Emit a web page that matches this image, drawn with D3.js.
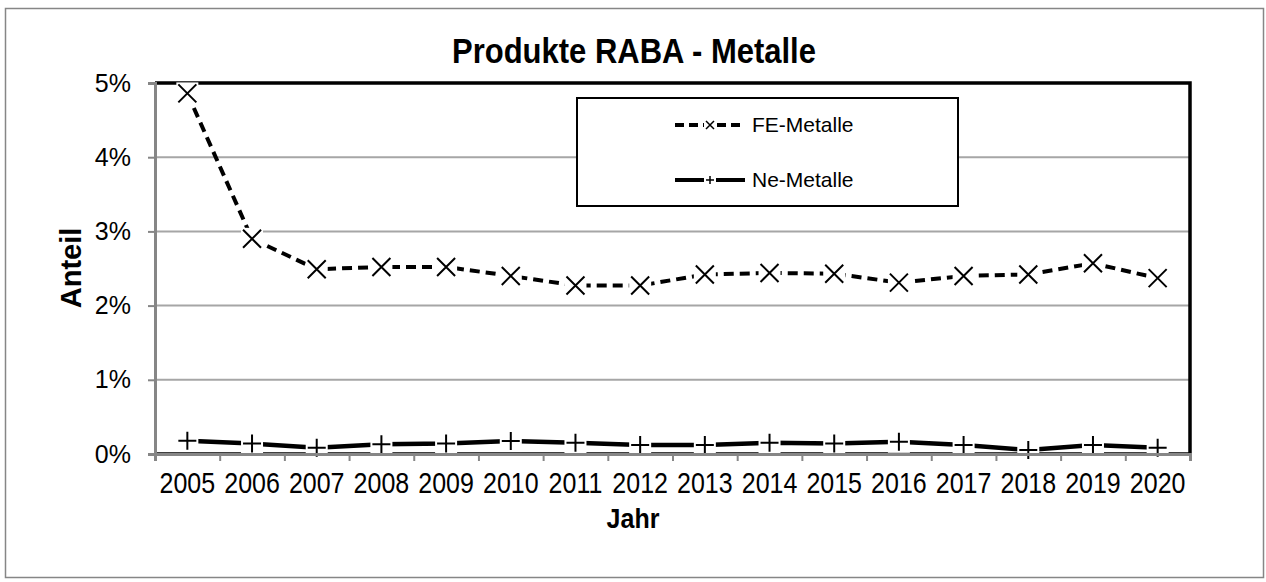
<!DOCTYPE html>
<html>
<head>
<meta charset="utf-8">
<script src="https://cdn.jsdelivr.net/npm/d3@7"></script>
<style>
  html, body { margin: 0; padding: 0; background: #fff; }
  text { font-family: "Liberation Sans", Arial, sans-serif; }
</style>
</head>
<body>
<div id="chart"></div>
<script>
const years= ['2005','2006','2007','2008','2009','2010','2011','2012','2013','2014','2015','2016','2017','2018','2019','2020'];
const feMetalle= [0.0486, 0.0290, 0.0249, 0.0252, 0.0252, 0.0240, 0.0227, 0.0227, 0.0242, 0.0244, 0.0243, 0.0231, 0.0240, 0.0242, 0.0257, 0.0237];
const neMetalle= [0.0018, 0.0014, 0.00085, 0.0013, 0.0014, 0.00175, 0.0015, 0.0012, 0.0012, 0.0015, 0.0014, 0.00165, 0.0012, 0.00054, 0.0012, 0.00085];
const yTicks= [0, 0.01, 0.02, 0.03, 0.04, 0.05];
const seriesNames= ['FE-Metalle', 'Ne-Metalle'];

const W= 1266, H= 582;
const plot= { l: 155, r: 1190, t: 83, b: 454 };
const GRID= '#a6a6a6', AXIS= '#868686';

const svg= d3.select('#chart').append('svg')
  .attr('width', W).attr('height', H);

// outer frame
svg.append('rect')
  .attr('x', 5.5).attr('y', 8.5).attr('width', 1258).attr('height', 569)
  .attr('fill', '#fff').attr('stroke', AXIS).attr('stroke-width', 1.5);

const x= d3.scaleBand().domain(years).range([plot.l, plot.r]);
const cx= d => x(d)+x.bandwidth()/2;
const y= d3.scaleLinear().domain([0, 0.05]).range([plot.b, plot.t]);
const xEdge= d3.scaleLinear().domain([0, years.length]).range([plot.l, plot.r]);

// gridlines
svg.append('g').selectAll('line')
  .data(yTicks.filter(v => v>0 && v<0.05))
  .join('line')
  .attr('x1', plot.l).attr('x2', plot.r)
  .attr('y1', d => y(d)).attr('y2', d => y(d))
  .attr('stroke', GRID).attr('stroke-width', 2);

// plot area border (black)
svg.append('path')
  .attr('d', `M${plot.l},${plot.t}H${plot.r}V${plot.b}H${plot.l}`)
  .attr('fill', 'none').attr('stroke', '#000').attr('stroke-width', 3.5);

// series lines
const line= d3.line().x((d, i) => cx(years[i])).y(d => y(d));
svg.append('path').datum(feMetalle)
  .attr('d', line).attr('fill', 'none')
  .attr('stroke', '#000').attr('stroke-width', 4)
  .attr('stroke-dasharray', '10,6');
svg.append('path').datum(neMetalle)
  .attr('d', line).attr('fill', 'none')
  .attr('stroke', '#000').attr('stroke-width', 4.5);

// marker halos, then markers
const HALO= 11, MK= 9;
const allPts= feMetalle.map((v, i) => [cx(years[i]), y(v)])
  .concat(neMetalle.map((v, i) => [cx(years[i]), y(v)]));
svg.append('g').selectAll('rect')
  .data(allPts).join('rect')
  .attr('x', d => d[0]-HALO).attr('y', d => d[1]-HALO)
  .attr('width', 2*HALO).attr('height', 2*HALO)
  .attr('fill', '#fff');

svg.append('g').selectAll('path')
  .data(feMetalle).join('path')
  .attr('d', (d, i) => {
    const px= cx(years[i]), py= y(d);
    return `M${px-MK},${py-MK}L${px+MK},${py+MK}M${px-MK},${py+MK}L${px+MK},${py-MK}`;
  })
  .attr('stroke', '#000').attr('stroke-width', 2).attr('fill', 'none');

svg.append('g').selectAll('path')
  .data(neMetalle).join('path')
  .attr('d', (d, i) => {
    const px= cx(years[i]), py= y(d);
    return `M${px-MK},${py}H${px+MK}M${px},${py-MK}V${py+MK}`;
  })
  .attr('stroke', '#000').attr('stroke-width', 2).attr('fill', 'none');

// y axis
const yAx= svg.append('g')
  .attr('transform', `translate(${plot.l},0)`)
  .call(d3.axisLeft(y).tickValues(yTicks).tickFormat(d3.format('.0%')).tickSize(7).tickPadding(17));
yAx.select('.domain').attr('stroke', AXIS).attr('stroke-width', 3);
yAx.selectAll('.tick line').attr('stroke', AXIS).attr('stroke-width', 2);
yAx.selectAll('.tick text')
  .attr('fill', '#000').attr('font-size', 25)
  .attr('font-family', '"Liberation Sans", Arial, sans-serif');

// x axis: boundary ticks + category labels
const xTk= svg.append('g')
  .attr('transform', `translate(0,${plot.b})`)
  .call(d3.axisBottom(xEdge).tickValues(d3.range(years.length+1)).tickSize(7).tickFormat(''));
xTk.select('.domain').attr('stroke', AXIS).attr('stroke-width', 3);
xTk.selectAll('.tick line').attr('stroke', AXIS).attr('stroke-width', 2);

const xLb= svg.append('g')
  .attr('transform', `translate(0,${plot.b})`)
  .call(d3.axisBottom(x).tickSize(0).tickFormat(''));
xLb.select('.domain').remove();
xLb.selectAll('.tick').append('text')
  .attr('transform', 'translate(0,39) scale(1,1.18)')
  .attr('text-anchor', 'middle')
  .attr('fill', '#000').attr('font-size', 25)
  .attr('font-family', '"Liberation Sans", Arial, sans-serif')
  .text(d => d);

// titles
svg.append('text')
  .attr('transform', 'translate(634,63) scale(1,1.12)')
  .attr('text-anchor', 'middle')
  .attr('font-size', 31).attr('font-weight', 'bold')
  .text('Produkte RABA - Metalle');

svg.append('text')
  .attr('transform', 'translate(81,268) rotate(-90)')
  .attr('text-anchor', 'middle')
  .attr('font-size', 29).attr('font-weight', 'bold')
  .text('Anteil');

svg.append('text')
  .attr('transform', 'translate(633,528) scale(1,1.12)')
  .attr('text-anchor', 'middle')
  .attr('font-size', 25).attr('font-weight', 'bold')
  .text('Jahr');

// legend
const lg= svg.append('g');
lg.append('rect')
  .attr('x', 577).attr('y', 98).attr('width', 381).attr('height', 108)
  .attr('fill', '#fff').attr('stroke', '#000').attr('stroke-width', 2);

const rows= [125, 180];
const lm= 4;
seriesNames.forEach((name, i) => {
  const ry= rows[i];
  lg.append('line')
    .attr('x1', 675).attr('x2', 745).attr('y1', ry).attr('y2', ry)
    .attr('stroke', '#000').attr('stroke-width', 4)
    .attr('stroke-dasharray', i===0 ? '9,5' : null);
  lg.append('rect')
    .attr('x', 710-6).attr('y', ry-6).attr('width', 12).attr('height', 12)
    .attr('fill', '#fff');
  lg.append('path')
    .attr('d', i===0
      ? `M${710-lm},${ry-lm}L${710+lm},${ry+lm}M${710-lm},${ry+lm}L${710+lm},${ry-lm}`
      : `M${710-lm},${ry}H${710+lm}M${710},${ry-lm}V${ry+lm}`)
    .attr('stroke', '#000').attr('stroke-width', 1.5);
  lg.append('text')
    .attr('x', 752).attr('y', ry+7)
    .attr('font-size', 21)
    .text(name);
});
</script>
</body>
</html>
